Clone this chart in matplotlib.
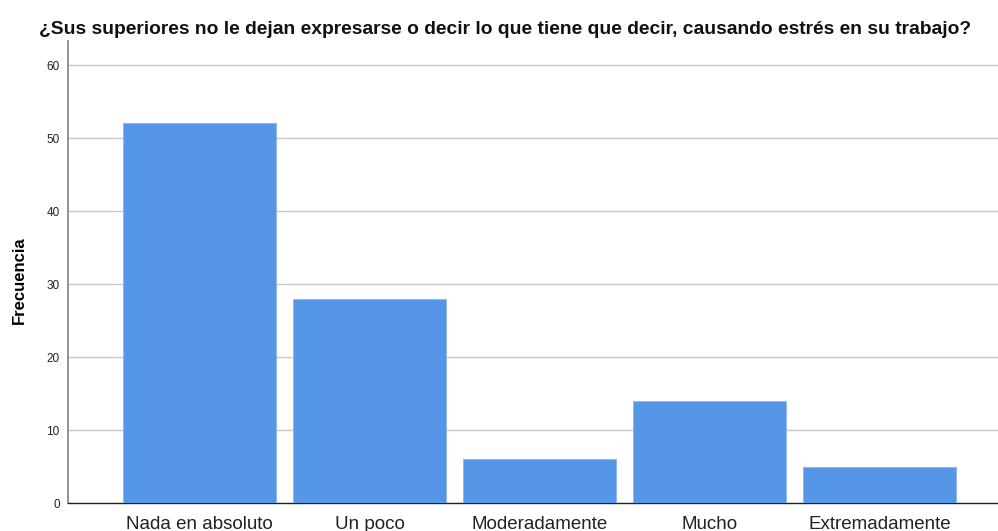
import numpy as np
import matplotlib
matplotlib.use('Agg')
import matplotlib.pyplot as plt

categorias = ['Nada en absoluto', 'Un poco', 'Moderadamente', 'Mucho', 'Extremadamente']
frecuencias = [52, 28, 6, 14, 5]
yticks = [0, 10, 20, 30, 40, 50, 60]

titulo = '¿Sus superiores no le dejan expresarse o decir lo que tiene que decir, causando estrés en su trabajo?'

plt.rcParams['font.family'] = ['Liberation Sans', 'DejaVu Sans']

fig = plt.figure(figsize=(9.98, 5.31), dpi=100)
ax = fig.add_axes([0.0681, 0.0527, 0.9319, 0.8701])

x = np.arange(len(categorias))
ax.bar(x, frecuencias, width=0.9, color='#5596e6', edgecolor='#8db8ee', linewidth=0.6, zorder=3)

ax.set_xlim(-0.7735, 4.697)
ax.set_ylim(0, 63.3)
ax.set_yticks(yticks)
ax.set_xticks(x)
ax.set_xticklabels(categorias, fontsize=13.5, color='#222222')
ax.tick_params(axis='y', length=0, labelsize=8.5, pad=6, labelcolor='#222222')
ax.tick_params(axis='x', length=0, pad=9)

ax.yaxis.grid(True, color='#c8c8c8', linewidth=1.0, zorder=0)
ax.set_axisbelow(True)

ax.spines['top'].set_visible(False)
ax.spines['right'].set_visible(False)
ax.spines['left'].set_color('#808080')
ax.spines['left'].set_linewidth(1.2)
ax.spines['bottom'].set_color('#222222')
ax.spines['bottom'].set_linewidth(1.0)

ax.set_ylabel('Frecuencia', fontsize=12, fontweight='bold')
ax.yaxis.set_label_coords(-0.044, 0.483)
fig.text(0.506, 0.945, titulo, ha='center', va='center', fontsize=13.9, fontweight='bold', color='#111111')

fig.savefig('out.png', dpi=100)
